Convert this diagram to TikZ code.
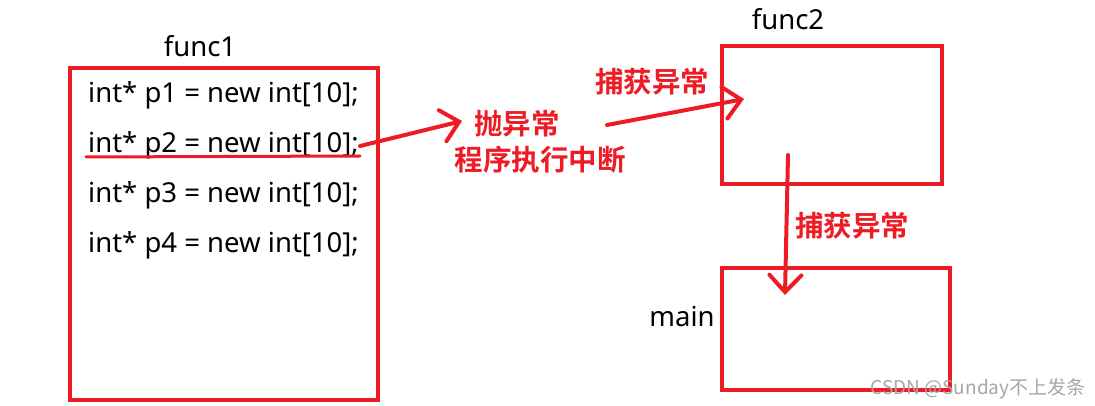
\documentclass[tikz,border=0pt]{standalone}
\usepackage{fontspec}
\setmainfont{Noto Sans}
\newfontfamily\cjkb{Noto Sans CJK SC Bold}
\newfontfamily\cjk{Noto Sans CJK SC}
\usetikzlibrary{arrows.meta}
\definecolor{pred}{HTML}{ED1C24}
\tikzset{
  box/.style={draw=pred, line width=4pt, anchor=north west, inner sep=0pt},
  code/.style={anchor=west, font=\fontsize{27.5}{30}\selectfont, inner sep=0pt},
  lbl/.style={font=\fontsize{27.5}{30}\selectfont, inner sep=0pt},
  redlbl/.style={text=pred, font=\cjkb\fontsize{28.5}{31}\selectfont, inner sep=0pt},
  conn/.style={draw=pred, line width=4pt, line cap=round, -{Straight Barb[length=17pt,width=32pt,line cap=round]}},
}
\begin{document}
\begin{tikzpicture}[x=1pt,y=-1pt]
\useasboundingbox (0,0) rectangle (1095,406);
% boxes
\node[box, minimum width=308pt, minimum height=332pt] (f1) at (68,66) {};
\node[box, minimum width=220pt, minimum height=138pt] (f2) at (720,44) {};
\node[box, minimum width=228pt, minimum height=122pt] (mn) at (720,266) {};
% labels
\node[lbl] (l1) at (200,46) {func1};
\node[lbl] (l2) at (788,19) {func2};
\node[lbl] (l3) at (682,317) {main};
% code
\node[code] (c1) at (88,95) {int* p1 = new int[10];};
\node[code] (c2) at (88,145) {int* p2 = new int[10];};
\node[code] (c3) at (88,195) {int* p3 = new int[10];};
\node[code] (c4) at (88,245) {int* p4 = new int[10];};
% underline
\coordinate (u1) at (86,157);
\coordinate (u2) at (360,156);
\draw[draw=pred, line width=3pt, line cap=round] (u1) -- (u2);
% red labels
\node[redlbl] (t1) at (517,124) {抛异常};
\node[redlbl] (t2) at (540,160) {程序执行中断};
\node[redlbl] (t3) at (652,82) {捕获异常};
\node[redlbl] (t4) at (852,226) {捕获异常};
% arrows
\coordinate (a1s) at (360,146);
\coordinate (a1e) at (462,121);
\draw[conn] (a1s) -- (a1e);
\coordinate (a2s) at (607,125);
\coordinate (a2e) at (744,99);
\draw[conn] (a2s) -- (a2e);
\coordinate (a3s) at (788,155);
\coordinate (a3e) at (785,295);
\draw[conn] (a3s) -- (a3e);
% watermark
\node[text=gray!70, font=\cjk\fontsize{19}{21}\selectfont, inner sep=0pt] (wm) at (978,389) {CSDN @Sunday不上发条};
\end{tikzpicture}
\end{document}
